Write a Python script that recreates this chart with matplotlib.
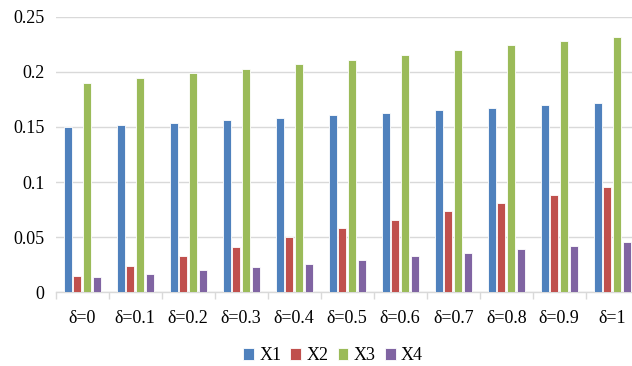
import numpy as np
import matplotlib
matplotlib.use('Agg')
import matplotlib.pyplot as plt

plt.rcParams['font.family'] = ['Liberation Serif', 'DejaVu Serif']

# Data
categories = ['δ=0', 'δ=0.1', 'δ=0.2', 'δ=0.3', 'δ=0.4', 'δ=0.5',
              'δ=0.6', 'δ=0.7', 'δ=0.8', 'δ=0.9', 'δ=1']
x1 = [0.150, 0.152, 0.154, 0.156, 0.1585, 0.1605, 0.163, 0.165, 0.1675, 0.170, 0.172]
x2 = [0.015, 0.024, 0.033, 0.0415, 0.050, 0.058, 0.0655, 0.0735, 0.081, 0.088, 0.0955]
x3 = [0.190, 0.194, 0.1985, 0.2025, 0.207, 0.211, 0.2155, 0.2195, 0.224, 0.228, 0.232]
x4 = [0.0135, 0.0167, 0.020, 0.023, 0.026, 0.0295, 0.0326, 0.0356, 0.039, 0.042, 0.0453]
series_names = ['X1', 'X2', 'X3', 'X4']
colors = ['#4F81BD', '#C0504D', '#9BBB59', '#8064A2']

fig = plt.figure(figsize=(6.32, 3.66), dpi=100, facecolor='white')
# plot area runs slightly past the right edge, as in the reference
ax = fig.add_axes([55.7 / 632, (366 - 292.3) / 366, 583 / 632, 275.6 / 366])

x = np.arange(len(categories))
pitch = 0.183
width = 0.155
for i, (vals, name, c) in enumerate(zip([x1, x2, x3, x4], series_names, colors)):
    ax.bar(x + (i - 1.5) * pitch, vals, width=width, color=c, edgecolor='white',
           linewidth=0.6, label=name, zorder=3)

ax.set_xlim(-0.5, len(categories) - 0.5)
ax.set_ylim(0, 0.25)
ax.set_yticks([0, 0.05, 0.1, 0.15, 0.2, 0.25])
ax.set_yticklabels(['0', '0.05', '0.1', '0.15', '0.2', '0.25'])
ax.yaxis.grid(True, color='#D9D9D9', linewidth=1.0, zorder=0)
ax.set_axisbelow(True)

ax.set_xticks(x)
ax.set_xticklabels(categories)
ax.set_xticks(np.arange(-0.5, len(categories), 1.0), minor=True)
ax.tick_params(axis='x', which='major', length=0, pad=13, labelsize=13)
ax.tick_params(axis='x', which='minor', length=5, color='#D9D9D9', width=1.0)
ax.tick_params(axis='y', length=0, pad=8, labelsize=13)

for s in ['top', 'right', 'left']:
    ax.spines[s].set_visible(False)
ax.spines['bottom'].set_color('#D9D9D9')
ax.spines['bottom'].set_linewidth(1.0)

fig.legend(loc='center', bbox_to_anchor=(333 / 632, 10 / 366), ncol=4, frameon=False,
           fontsize=13, handlelength=0.6, handleheight=0.6, handletextpad=0.3,
           columnspacing=0.5)

fig.savefig('out.png', dpi=100, facecolor='white')
